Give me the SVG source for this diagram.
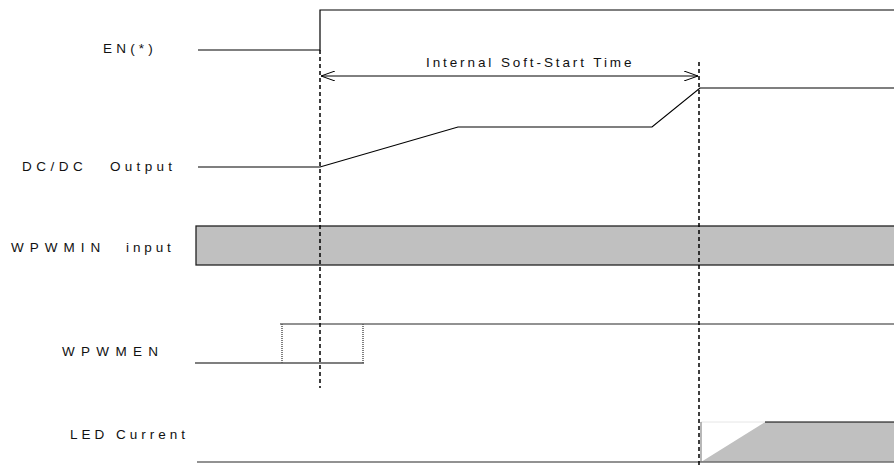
<svg xmlns="http://www.w3.org/2000/svg" width="894" height="468" viewBox="0 0 894 468">
<defs>
<style>
.lbl{font-family:"Liberation Sans",Arial,sans-serif;font-size:13.5px;fill:#111}
.sig{fill:none;stroke:#000;stroke-width:1.2}
.gsig{fill:none;stroke:#6e6e6e;stroke-width:1.5}
.dash{fill:none;stroke:#000;stroke-width:1.5;stroke-dasharray:4,3}
.dot{fill:none;stroke:#555;stroke-width:1.5;stroke-dasharray:1,1}
</style>
<marker id="open" viewBox="0 0 14 10" refX="14" refY="5" markerWidth="14" markerHeight="10" markerUnits="userSpaceOnUse" orient="auto-start-reverse">
<path d="M0,0 L14,5 L0,10" fill="none" stroke="#000" stroke-width="1"/>
</marker>
</defs>
<rect width="894" height="468" fill="#fff"/>

<g id="en">
<text class="lbl" x="103" y="53" letter-spacing="4.2">EN(*)</text>
<polyline class="sig" points="198,50 320,50 320,10 894,10"/>
</g>

<g id="dcdc">
<text class="lbl" y="171"><tspan x="22" letter-spacing="4.5">DC/DC</tspan> <tspan x="110" letter-spacing="4.3">Output</tspan></text>
<polyline class="sig" points="198,167 320,167 458,127 652,127 700,88 894,88"/>
</g>

<g id="wpwmin">
<text class="lbl" y="252"><tspan x="11" letter-spacing="6">WPWMIN</tspan> <tspan x="126" letter-spacing="3.9">input</tspan></text>
<rect x="196" y="226" width="700" height="39" fill="#c0c0c0" stroke="#222" stroke-width="1.3"/>
</g>

<g id="wpwmen">
<text class="lbl" x="62" y="356" letter-spacing="6.3">WPWMEN</text>
<line class="sig" x1="195" y1="363" x2="364" y2="363"/>
<line class="gsig" x1="280" y1="324" x2="894" y2="324" stroke="#808080"/>
<line class="dot" x1="282" y1="324" x2="282" y2="363"/>
<line class="dot" x1="363" y1="324" x2="363" y2="363"/>
</g>

<g id="led">
<text class="lbl" x="70" y="439" letter-spacing="4">LED Current</text>
<polygon points="701,462 765,422 894,422 894,462" fill="#c0c0c0"/>
<line x1="701" y1="422" x2="765" y2="422" stroke="#e6e6e6" stroke-width="1"/>
<line class="sig" x1="765" y1="422" x2="894" y2="422"/>
<line x1="701" y1="422" x2="701" y2="462" stroke="#888" stroke-width="1.2"/>
<line class="gsig" x1="197" y1="462" x2="894" y2="462"/>
</g>

<g id="connectors">
<line class="dash" x1="320" y1="50" x2="320" y2="388"/>
<line class="dash" x1="699" y1="62" x2="699" y2="468"/>
<line x1="321" y1="76" x2="698" y2="76" stroke="#000" stroke-width="1" marker-start="url(#open)" marker-end="url(#open)"/>
<text class="lbl" x="426" y="67" letter-spacing="2.9">Internal Soft-Start Time</text>
</g>
</svg>
